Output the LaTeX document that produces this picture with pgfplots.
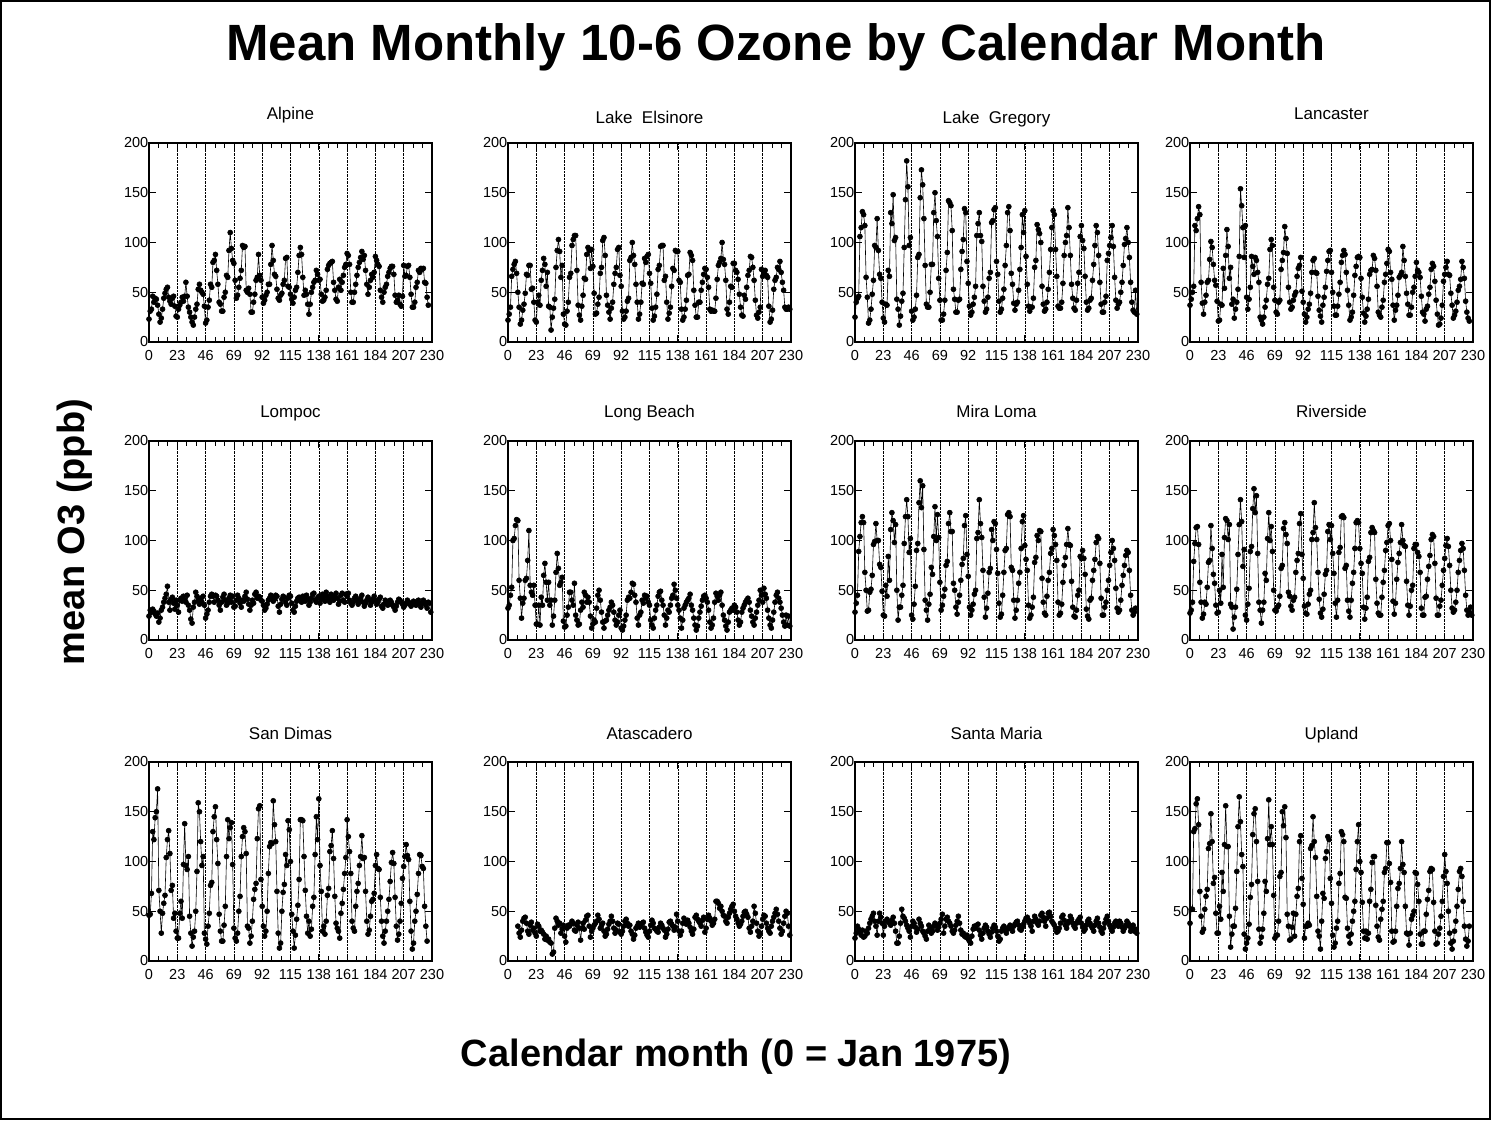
\documentclass[border=0pt]{standalone}
\usepackage{fontspec}
\setmainfont{Liberation Sans}
\usepackage{pgfplots}
\pgfplotsset{compat=1.18}

\pgfplotsset{
  panel/.style={
    scale only axis, width=283pt, height=199pt, anchor=south west,
    xmin=0, xmax=230, ymin=0, ymax=200,
    xtick={0,23,46,69,92,115,138,161,184,207,230},
    xticklabels={0,23,46,69,92,115,138,161,184,207,230},
    ytick={0,50,100,150,200},
    yticklabels={0,50,100,150,200},
    minor x tick num=2,
    tick align=inside, major tick length=7pt, minor tick length=5pt,
    xmajorgrids, major grid style={black, densely dotted, line width=0.6pt},
    axis line style={line width=1.2pt},
    every tick/.style={black, line width=0.8pt},
    tick label style={font=\fontsize{14.5}{14.5}\selectfont, inner sep=1pt},
    xticklabel style={anchor=north, text height=10.5pt, text depth=0pt, yshift=-7pt},
    yticklabel style={inner xsep=0.5pt},
    title style={font=\fontsize{17}{17}\selectfont, anchor=base, at={(0.5,1)}, yshift=17pt},
  },
  ozone/.style={black, line width=0.6pt, mark=*, mark size=2.5pt,
    mark options={fill=black, draw=black}},
}

\begin{document}
\begin{tikzpicture}
\path[use as bounding box] (0,0) rectangle (1491pt,1120pt);
\draw[line width=2pt] (1pt,1pt) rectangle (1490pt,1119pt);

\node[anchor=base, font=\fontsize{51}{51}\selectfont\bfseries] at (776pt,1059pt) {Mean Monthly 10-6 Ozone by Calendar Month};
\node[anchor=base, font=\fontsize{38}{38}\selectfont\bfseries] at (736pt,54pt) {Calendar month (0 = Jan 1975)};
\node[rotate=90, anchor=base, font=\fontsize{38}{38}\selectfont\bfseries] at (84pt,588pt) {mean O3 (ppb)};

% ---------- row 1 ----------
\begin{axis}[panel, at={(149pt,778pt)}, title={Alpine}]
\addplot[ozone] table[x expr=\coordindex, y index=0, header=false, row sep=\\] {
23\\31\\33\\46\\40\\44\\43\\37\\28\\20\\24\\33\\
44\\49\\53\\55\\45\\41\\38\\44\\46\\36\\26\\25\\
33\\37\\40\\45\\41\\46\\60\\46\\35\\30\\25\\20\\
17\\25\\33\\38\\53\\58\\52\\50\\48\\36\\19\\22\\
35\\42\\58\\55\\80\\82\\88\\72\\58\\40\\38\\31\\
31\\45\\50\\67\\65\\92\\110\\94\\82\\79\\62\\44\\
47\\55\\64\\72\\97\\95\\96\\52\\50\\54\\48\\30\\
30\\40\\48\\62\\65\\88\\67\\62\\45\\39\\42\\47\\
50\\58\\58\\78\\97\\82\\68\\66\\53\\44\\42\\47\\
49\\58\\62\\84\\85\\56\\55\\48\\43\\39\\45\\52\\
55\\70\\87\\95\\88\\65\\47\\52\\48\\38\\28\\38\\
50\\55\\60\\62\\72\\68\\62\\63\\48\\41\\42\\45\\
52\\73\\77\\79\\80\\81\\60\\52\\43\\41\\55\\63\\
52\\60\\67\\75\\78\\89\\87\\78\\50\\40\\40\\50\\
58\\67\\75\\80\\85\\91\\83\\87\\72\\58\\48\\55\\
62\\68\\65\\70\\86\\82\\78\\76\\52\\45\\40\\50\\
55\\58\\66\\70\\74\\76\\76\\68\\47\\40\\42\\47\\
38\\36\\46\\77\\66\\67\\76\\77\\65\\48\\35\\35\\
40\\55\\60\\72\\70\\74\\73\\74\\60\\59\\45\\37\\
};
\end{axis}

\begin{axis}[panel, at={(508pt,778pt)}, title={Lake\ \ Elsinore}, title style={yshift=-4pt}]
\addplot[ozone] table[x expr=\coordindex, y index=0, header=false, row sep=\\] {
22\\28\\35\\66\\73\\78\\81\\69\\50\\35\\18\\22\\
32\\38\\49\\68\\67\\77\\77\\53\\54\\40\\22\\20\\
40\\47\\37\\62\\72\\84\\78\\56\\70\\36\\35\\12\\
25\\34\\43\\75\\92\\103\\91\\65\\77\\28\\18\\17\\
31\\40\\65\\69\\97\\103\\107\\107\\72\\37\\27\\22\\
36\\47\\64\\63\\88\\95\\92\\74\\93\\76\\49\\28\\
29\\38\\45\\69\\75\\102\\105\\87\\47\\37\\30\\23\\
34\\40\\58\\69\\75\\93\\95\\67\\56\\31\\23\\25\\
31\\41\\44\\82\\85\\100\\87\\78\\58\\40\\23\\28\\
40\\59\\58\\84\\80\\86\\88\\69\\59\\34\\22\\26\\
35\\48\\73\\77\\96\\97\\97\\62\\66\\40\\23\\29\\
35\\56\\74\\72\\92\\91\\91\\62\\60\\33\\22\\25\\
33\\42\\67\\68\\90\\87\\82\\52\\37\\25\\25\\40\\
40\\52\\60\\68\\74\\73\\65\\55\\33\\31\\32\\31\\
31\\44\\63\\77\\80\\84\\100\\83\\78\\62\\33\\28\\
40\\56\\55\\79\\79\\72\\70\\63\\48\\35\\27\\26\\
47\\43\\55\\67\\72\\86\\85\\75\\62\\42\\27\\24\\
30\\35\\73\\66\\70\\72\\67\\65\\36\\20\\23\\32\\
53\\62\\65\\75\\73\\81\\70\\60\\52\\35\\33\\33\\
35\\33\\
};
\end{axis}

\begin{axis}[panel, at={(855pt,778pt)}, title={Lake\ \ Gregory}, title style={yshift=-4pt}]
\addplot[ozone] table[x expr=\coordindex, y index=0, header=false, row sep=\\] {
25\\40\\44\\46\\106\\115\\131\\128\\117\\65\\45\\19\\
22\\33\\48\\62\\97\\95\\124\\92\\68\\64\\40\\24\\
20\\38\\37\\72\\66\\130\\119\\148\\102\\105\\43\\33\\
17\\26\\41\\49\\95\\143\\182\\156\\97\\105\\31\\22\\
25\\33\\47\\85\\88\\145\\173\\158\\124\\77\\38\\35\\
35\\50\\78\\78\\130\\150\\122\\106\\64\\42\\22\\22\\
28\\42\\72\\90\\142\\140\\137\\112\\53\\43\\30\\30\\
42\\43\\73\\91\\103\\134\\130\\81\\59\\36\\27\\30\\
38\\45\\56\\107\\119\\130\\107\\101\\56\\41\\30\\33\\
45\\64\\70\\120\\122\\133\\135\\81\\68\\41\\30\\33\\
44\\53\\77\\97\\130\\136\\112\\69\\58\\39\\32\\38\\
40\\52\\73\\95\\128\\110\\132\\86\\58\\36\\31\\35\\
35\\44\\75\\82\\118\\113\\109\\100\\56\\38\\31\\33\\
40\\53\\70\\93\\115\\132\\128\\93\\66\\36\\34\\34\\
40\\59\\87\\100\\107\\135\\115\\87\\58\\44\\34\\32\\
42\\59\\70\\106\\117\\102\\94\\66\\40\\32\\34\\42\\
44\\62\\78\\97\\117\\110\\87\\60\\38\\30\\30\\40\\
46\\82\\89\\97\\105\\117\\96\\65\\42\\34\\38\\40\\
50\\60\\77\\98\\104\\115\\100\\85\\60\\40\\32\\30\\
52\\28\\
};
\end{axis}

\begin{axis}[panel, at={(1190pt,778pt)}, title={Lancaster}]
\addplot[ozone] table[x expr=\coordindex, y index=0, header=false, row sep=\\] {
37\\43\\50\\56\\117\\112\\124\\136\\128\\60\\39\\28\\
40\\47\\60\\62\\83\\101\\95\\78\\62\\57\\41\\21\\
22\\38\\37\\74\\54\\87\\113\\96\\64\\75\\38\\43\\
24\\33\\40\\53\\86\\154\\137\\115\\85\\117\\45\\33\\
43\\55\\86\\76\\68\\85\\82\\70\\60\\25\\22\\18\\
25\\35\\42\\58\\64\\93\\103\\97\\55\\42\\30\\28\\
40\\42\\73\\82\\90\\116\\104\\89\\55\\40\\33\\35\\
42\\47\\50\\66\\74\\77\\85\\51\\40\\28\\20\\25\\
33\\38\\49\\70\\82\\84\\70\\69\\46\\32\\26\\20\\
37\\45\\55\\71\\82\\91\\92\\70\\50\\36\\27\\27\\
36\\48\\60\\80\\87\\92\\88\\70\\52\\37\\22\\25\\
30\\47\\67\\76\\85\\86\\85\\64\\45\\29\\20\\26\\
33\\43\\68\\72\\73\\87\\84\\72\\56\\30\\27\\25\\
35\\42\\60\\68\\79\\93\\91\\70\\63\\37\\22\\32\\
37\\47\\65\\67\\70\\96\\82\\66\\49\\38\\27\\27\\
35\\50\\55\\66\\80\\72\\70\\65\\46\\30\\28\\21\\
33\\36\\48\\55\\73\\79\\76\\61\\42\\28\\17\\18\\
24\\37\\61\\68\\75\\81\\68\\67\\49\\37\\24\\27\\
31\\40\\52\\56\\63\\81\\75\\64\\41\\30\\24\\21\\
};
\end{axis}

% ---------- row 2 ----------
\begin{axis}[panel, at={(149pt,480pt)}, title={Lompoc}]
\addplot[ozone] table[x expr=\coordindex, y index=0, header=false, row sep=\\] {
24\\30\\28\\31\\29\\26\\24\\27\\18\\22\\30\\33\\
38\\42\\46\\54\\38\\30\\41\\43\\37\\31\\40\\35\\
28\\40\\42\\39\\44\\40\\38\\45\\35\\30\\21\\17\\
33\\38\\48\\44\\40\\36\\42\\38\\44\\35\\22\\26\\
30\\38\\44\\46\\44\\38\\45\\44\\40\\35\\30\\38\\
43\\46\\40\\35\\37\\42\\45\\38\\44\\33\\34\\40\\
45\\42\\37\\33\\40\\39\\44\\48\\41\\36\\30\\35\\
40\\37\\46\\48\\42\\44\\43\\40\\39\\35\\30\\32\\
36\\40\\42\\45\\43\\39\\41\\45\\44\\34\\28\\36\\
41\\44\\43\\38\\35\\42\\45\\44\\37\\30\\28\\34\\
39\\42\\43\\40\\38\\44\\42\\39\\45\\41\\35\\38\\
42\\46\\47\\40\\38\\42\\44\\37\\41\\46\\43\\39\\
48\\44\\41\\38\\46\\43\\40\\44\\47\\42\\36\\39\\
45\\47\\40\\38\\46\\44\\47\\40\\37\\35\\38\\42\\
44\\40\\36\\39\\42\\45\\38\\34\\37\\40\\43\\40\\
35\\38\\41\\44\\40\\36\\38\\41\\43\\34\\32\\36\\
40\\39\\35\\36\\40\\38\\35\\33\\30\\34\\38\\41\\
40\\38\\36\\33\\35\\37\\40\\38\\36\\34\\37\\39\\
38\\35\\38\\40\\36\\33\\37\\40\\38\\35\\32\\38\\
37\\28\\
};
\end{axis}

\begin{axis}[panel, at={(508pt,480pt)}, title={Long Beach}]
\addplot[ozone] table[x expr=\coordindex, y index=0, header=false, row sep=\\] {
32\\35\\45\\53\\100\\102\\115\\121\\120\\60\\42\\22\\
37\\42\\60\\62\\80\\110\\55\\48\\45\\55\\35\\16\\
16\\35\\15\\43\\35\\65\\77\\58\\40\\58\\35\\40\\
15\\24\\40\\68\\87\\72\\55\\58\\63\\19\\13\\14\\
25\\33\\48\\48\\40\\35\\57\\25\\20\\15\\16\\30\\
38\\33\\48\\45\\38\\43\\38\\24\\12\\16\\20\\18\\
32\\45\\50\\40\\28\\18\\12\\19\\20\\25\\30\\33\\
38\\35\\28\\20\\15\\18\\25\\30\\12\\10\\14\\20\\
25\\40\\43\\42\\48\\57\\56\\45\\38\\22\\15\\25\\
28\\40\\37\\45\\42\\44\\38\\35\\20\\15\\12\\22\\
30\\35\\44\\48\\49\\40\\35\\25\\15\\22\\30\\28\\
35\\42\\45\\56\\50\\42\\35\\30\\22\\12\\20\\32\\
35\\38\\40\\42\\46\\35\\30\\22\\15\\10\\14\\22\\
28\\34\\40\\44\\45\\42\\38\\30\\18\\12\\15\\22\\
38\\47\\44\\40\\45\\48\\35\\25\\20\\14\\10\\18\\
28\\30\\32\\30\\35\\33\\28\\20\\15\\18\\28\\32\\
35\\38\\40\\42\\38\\30\\24\\18\\15\\22\\28\\35\\
40\\50\\45\\38\\52\\46\\42\\30\\22\\15\\12\\20\\
28\\38\\45\\48\\42\\38\\32\\25\\18\\14\\25\\15\\
24\\14\\
};
\end{axis}

\begin{axis}[panel, at={(855pt,480pt)}, title={Mira Loma}]
\addplot[ozone] table[x expr=\coordindex, y index=0, header=false, row sep=\\] {
28\\37\\45\\89\\104\\118\\124\\118\\68\\50\\29\\30\\
48\\51\\65\\96\\99\\117\\100\\100\\76\\73\\49\\25\\
24\\55\\44\\84\\60\\111\\128\\120\\98\\116\\50\\20\\
33\\33\\45\\55\\97\\124\\141\\124\\88\\102\\25\\21\\
36\\54\\90\\97\\138\\160\\133\\155\\91\\40\\30\\20\\
36\\46\\73\\66\\104\\134\\100\\126\\103\\58\\30\\35\\
44\\51\\75\\79\\117\\128\\109\\109\\57\\50\\33\\26\\
38\\45\\60\\76\\82\\115\\125\\86\\64\\33\\25\\30\\
36\\46\\50\\102\\108\\141\\117\\103\\70\\43\\23\\32\\
47\\68\\72\\111\\100\\119\\117\\91\\67\\37\\23\\26\\
45\\68\\90\\92\\126\\128\\124\\73\\70\\40\\22\\30\\
40\\57\\68\\92\\119\\125\\95\\81\\70\\35\\22\\25\\
33\\43\\78\\83\\105\\100\\110\\109\\62\\38\\27\\25\\
44\\60\\68\\87\\92\\111\\105\\96\\80\\38\\25\\27\\
36\\58\\75\\83\\96\\112\\96\\95\\59\\33\\24\\23\\
30\\45\\50\\84\\82\\90\\82\\66\\31\\24\\21\\40\\
42\\60\\70\\81\\98\\104\\102\\77\\42\\25\\25\\33\\
38\\50\\60\\75\\88\\100\\92\\80\\52\\32\\28\\30\\
40\\55\\65\\75\\85\\90\\88\\70\\45\\30\\25\\28\\
32\\
};
\end{axis}

\begin{axis}[panel, at={(1190pt,480pt)}, title={Riverside}]
\addplot[ozone] table[x expr=\coordindex, y index=0, header=false, row sep=\\] {
27\\30\\38\\79\\97\\113\\114\\96\\58\\38\\22\\26\\
38\\36\\53\\78\\80\\115\\92\\66\\57\\35\\27\\28\\
50\\37\\86\\53\\103\\122\\120\\101\\116\\36\\33\\11\\
23\\33\\51\\86\\116\\141\\119\\74\\91\\25\\20\\36\\
52\\89\\94\\132\\152\\128\\145\\87\\38\\30\\17\\30\\
38\\67\\60\\102\\128\\100\\114\\89\\50\\30\\29\\33\\
35\\44\\72\\75\\112\\118\\106\\97\\48\\44\\34\\30\\
40\\43\\68\\80\\87\\117\\127\\86\\62\\34\\27\\26\\
36\\46\\50\\101\\108\\138\\113\\101\\68\\41\\27\\23\\
31\\46\\66\\70\\109\\116\\101\\115\\87\\67\\37\\23\\
40\\88\\93\\124\\125\\123\\72\\75\\40\\29\\23\\40\\
57\\68\\92\\118\\120\\118\\92\\77\\67\\33\\21\\32\\
43\\79\\83\\108\\113\\110\\108\\61\\37\\27\\25\\25\\
43\\58\\70\\90\\98\\115\\117\\100\\81\\39\\26\\37\\
61\\78\\87\\98\\116\\100\\95\\94\\59\\35\\25\\34\\
50\\55\\92\\96\\96\\88\\84\\68\\32\\25\\25\\43\\
44\\61\\74\\85\\101\\106\\104\\77\\42\\25\\25\\34\\
40\\55\\70\\82\\95\\102\\94\\75\\50\\32\\28\\30\\
38\\50\\68\\80\\90\\97\\92\\70\\45\\30\\25\\28\\
33\\25\\
};
\end{axis}

% ---------- row 3 ----------
\begin{axis}[panel, at={(149pt,159pt)}, title={San Dimas}]
\addplot[ozone] table[x expr=\coordindex, y index=0, header=false, row sep=\\] {
46\\47\\68\\130\\122\\144\\150\\173\\71\\50\\28\\48\\
58\\66\\104\\122\\131\\108\\71\\76\\43\\48\\30\\23\\
23\\48\\60\\43\\97\\138\\96\\92\\105\\45\\28\\15\\
24\\30\\50\\90\\159\\150\\120\\96\\105\\28\\22\\17\\
35\\48\\76\\79\\130\\145\\155\\122\\98\\47\\30\\20\\
20\\36\\55\\105\\142\\123\\134\\139\\97\\33\\23\\20\\
28\\50\\65\\105\\125\\134\\130\\108\\35\\33\\18\\25\\
40\\62\\72\\78\\123\\153\\156\\82\\55\\35\\25\\30\\
50\\88\\115\\119\\118\\161\\137\\120\\70\\28\\13\\18\\
50\\69\\77\\107\\96\\141\\132\\100\\47\\30\\13\\26\\
42\\56\\82\\142\\142\\141\\105\\71\\45\\28\\40\\25\\
32\\55\\64\\107\\145\\122\\163\\96\\70\\30\\35\\27\\
40\\66\\73\\110\\116\\131\\103\\65\\38\\33\\30\\23\\
48\\58\\72\\88\\104\\142\\125\\110\\88\\40\\33\\30\\
55\\70\\78\\96\\105\\126\\103\\104\\70\\40\\27\\31\\
45\\60\\62\\68\\96\\107\\93\\92\\64\\40\\25\\18\\
30\\40\\50\\62\\80\\99\\109\\98\\64\\35\\21\\27\\
40\\58\\83\\95\\105\\117\\106\\102\\60\\30\\12\\18\\
40\\50\\67\\88\\107\\106\\95\\93\\55\\35\\20\\
};
\end{axis}

\begin{axis}[panel, at={(508pt,159pt)}, title={Atascadero}]
\addplot[ozone] table[x expr=\coordindex+8, y index=0, header=false, row sep=\\] {
35\\28\\24\\31\\
40\\43\\44\\38\\30\\27\\36\\39\\31\\33\\28\\25\\
37\\35\\30\\31\\29\\27\\22\\25\\21\\22\\19\\18\\
7\\9\\33\\43\\40\\36\\38\\28\\32\\36\\25\\19\\
33\\36\\35\\37\\40\\38\\31\\30\\36\\39\\33\\21\\
33\\38\\32\\41\\45\\46\\35\\24\\30\\33\\36\\38\\
40\\46\\42\\33\\36\\38\\30\\25\\27\\32\\37\\40\\
45\\40\\33\\28\\31\\38\\37\\29\\27\\30\\35\\40\\
42\\38\\35\\36\\30\\27\\22\\26\\33\\35\\38\\34\\
36\\38\\39\\33\\29\\26\\24\\30\\36\\41\\38\\33\\
32\\30\\29\\34\\38\\36\\33\\31\\24\\27\\32\\39\\
40\\37\\35\\31\\34\\47\\40\\30\\26\\30\\38\\43\\
40\\37\\41\\38\\34\\30\\27\\32\\44\\46\\42\\40\\
38\\35\\41\\44\\29\\33\\42\\46\\43\\40\\36\\38\\
42\\60\\60\\58\\53\\55\\50\\46\\45\\40\\38\\44\\
48\\52\\55\\57\\50\\45\\42\\38\\35\\37\\40\\45\\
49\\50\\47\\44\\33\\29\\35\\40\\55\\48\\38\\30\\
25\\28\\35\\42\\46\\45\\38\\33\\30\\28\\35\\40\\
44\\48\\52\\47\\40\\33\\27\\30\\38\\45\\50\\48\\
35\\26\\
};
\end{axis}

\begin{axis}[panel, at={(855pt,159pt)}, title={Santa Maria}]
\addplot[ozone] table[x expr=\coordindex, y index=0, header=false, row sep=\\] {
23\\28\\35\\32\\29\\26\\31\\24\\25\\30\\28\\33\\
38\\42\\45\\48\\40\\35\\26\\40\\48\\44\\38\\26\\
35\\40\\42\\40\\38\\36\\41\\44\\38\\30\\18\\18\\
25\\38\\52\\45\\43\\40\\36\\33\\30\\24\\35\\40\\
38\\34\\29\\32\\42\\38\\35\\30\\28\\25\\22\\30\\
36\\33\\28\\30\\35\\38\\36\\31\\34\\38\\42\\47\\
28\\35\\42\\44\\40\\38\\35\\30\\28\\31\\36\\40\\
45\\38\\31\\27\\28\\25\\24\\26\\22\\20\\18\\25\\
32\\35\\33\\36\\37\\31\\26\\22\\28\\33\\36\\34\\
30\\27\\24\\29\\33\\36\\34\\30\\25\\20\\22\\30\\
33\\35\\31\\28\\32\\34\\36\\33\\30\\35\\37\\39\\
40\\36\\32\\31\\34\\37\\40\\43\\44\\41\\38\\35\\
30\\40\\45\\42\\38\\36\\40\\46\\48\\44\\40\\35\\
43\\48\\49\\45\\40\\38\\36\\33\\29\\30\\33\\38\\
44\\46\\41\\36\\33\\38\\40\\45\\42\\38\\35\\33\\
38\\40\\42\\44\\38\\34\\30\\32\\36\\40\\42\\38\\
35\\33\\30\\36\\40\\43\\38\\34\\30\\28\\33\\38\\
42\\45\\40\\36\\33\\30\\34\\38\\40\\37\\35\\40\\
38\\34\\30\\33\\36\\40\\38\\35\\30\\33\\36\\30\\
32\\28\\
};
\end{axis}

\begin{axis}[panel, at={(1190pt,159pt)}, title={Upland}]
\addplot[ozone] table[x expr=\coordindex, y index=0, header=false, row sep=\\] {
38\\52\\52\\130\\133\\158\\163\\137\\70\\45\\29\\32\\
52\\65\\72\\113\\118\\148\\120\\78\\84\\48\\28\\28\\
55\\42\\89\\70\\117\\156\\115\\115\\45\\14\\27\\35\\
35\\53\\90\\135\\165\\140\\107\\95\\27\\12\\18\\23\\
37\\64\\77\\127\\148\\153\\120\\80\\32\\18\\24\\32\\
48\\80\\70\\123\\162\\117\\135\\117\\66\\23\\26\\26\\
40\\85\\89\\150\\136\\155\\124\\47\\35\\21\\22\\34\\
48\\25\\47\\65\\73\\120\\126\\83\\57\\23\\35\\35\\
38\\36\\113\\116\\145\\120\\104\\65\\30\\25\\12\\40\\
68\\63\\103\\110\\125\\122\\83\\58\\26\\14\\18\\33\\
40\\78\\88\\130\\127\\120\\64\\63\\33\\25\\18\\27\\
40\\50\\60\\92\\120\\137\\100\\89\\59\\30\\23\\30\\
22\\28\\60\\72\\99\\105\\105\\56\\35\\24\\21\\42\\
52\\60\\89\\93\\119\\119\\98\\79\\30\\19\\20\\30\\
55\\73\\78\\93\\120\\97\\89\\55\\28\\27\\16\\28\\
42\\46\\50\\89\\88\\77\\60\\27\\17\\17\\30\\30\\
47\\62\\71\\90\\93\\92\\59\\30\\17\\18\\27\\33\\
45\\60\\85\\107\\90\\78\\50\\28\\18\\12\\20\\30\\
40\\55\\72\\90\\93\\85\\60\\35\\22\\15\\20\\35\\
};
\end{axis}
\end{tikzpicture}
\end{document}
